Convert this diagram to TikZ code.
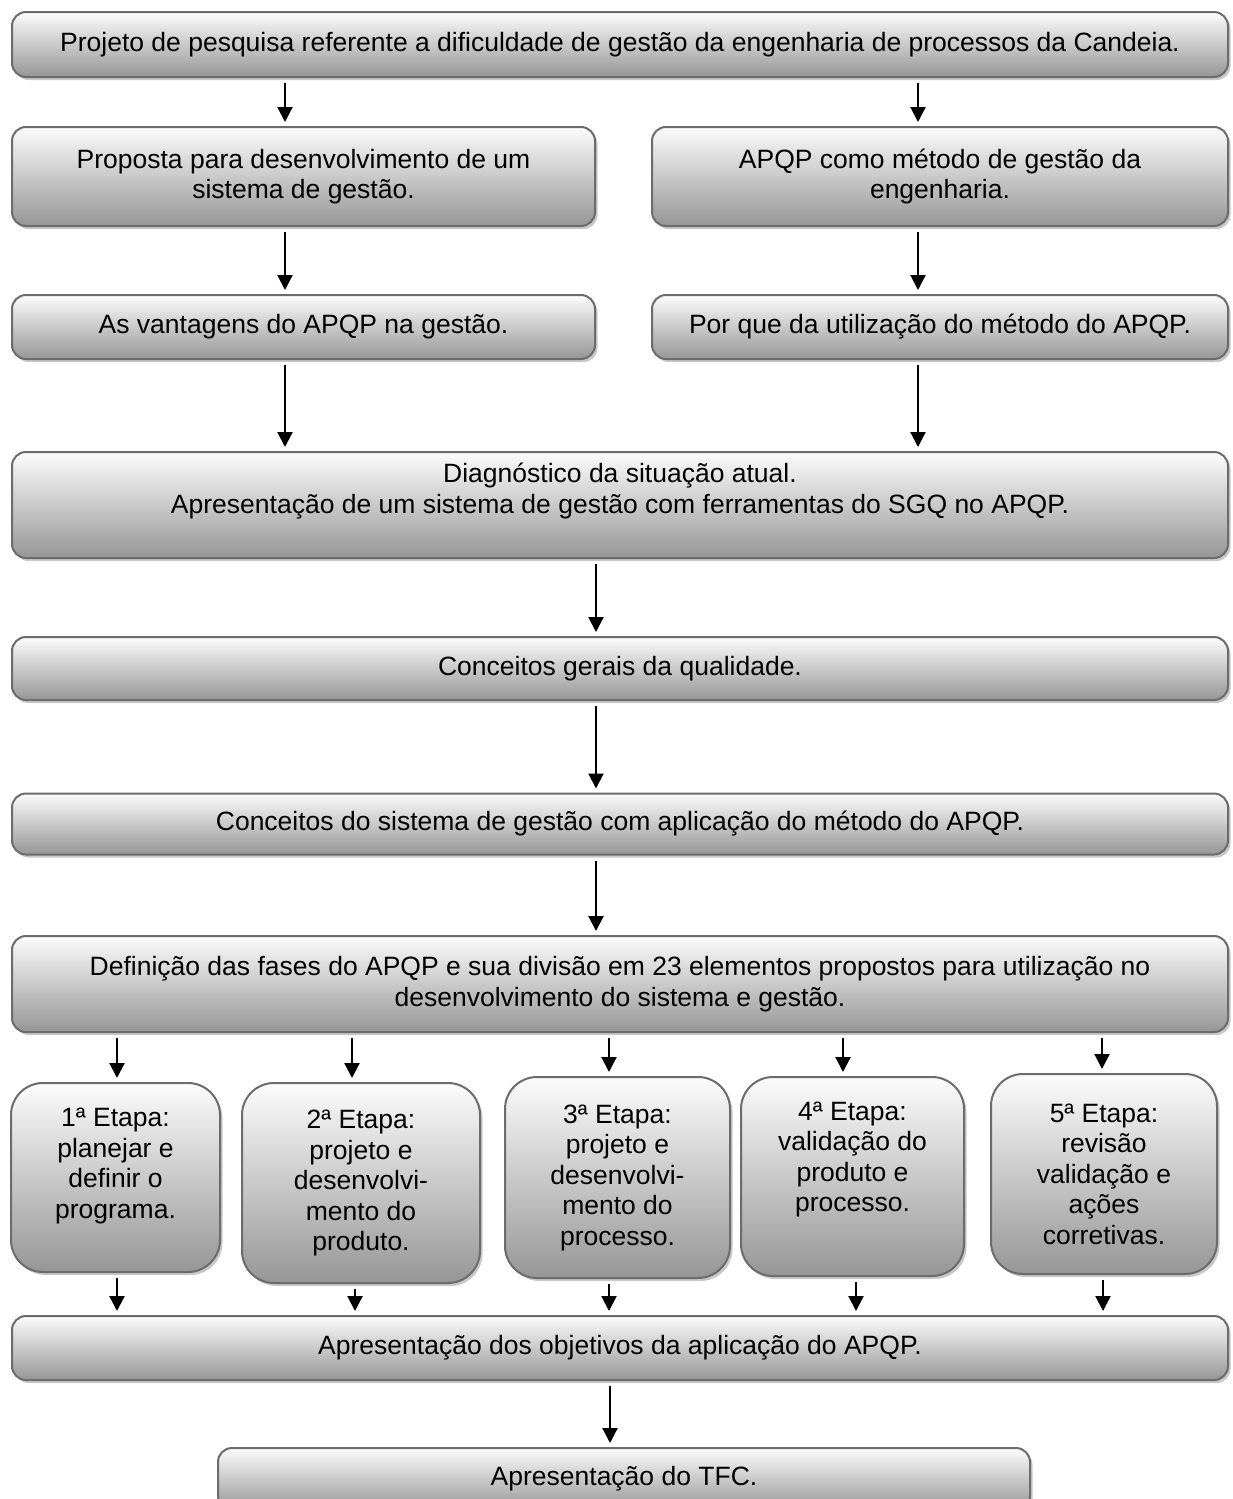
\documentclass[tikz,border=0pt]{standalone}
\usepackage{fontspec}
\setmainfont{Liberation Sans}
\usetikzlibrary{arrows.meta,positioning,shadows}

\definecolor{boxline}{RGB}{108,108,108}
\definecolor{boxtop}{RGB}{252,252,252}
\definecolor{boxbottom}{RGB}{150,150,150}
\definecolor{boxshadow}{RGB}{200,200,200}

\tikzset{
    box/.style={draw=boxline, line width=2pt, rounded corners=14pt,
        top color=boxtop, bottom color=boxbottom, align=center, inner sep=0pt,
        drop shadow={shadow xshift=2.5pt, shadow yshift=-3pt, fill=boxshadow, opacity=1}},
    etapa/.style={box, rounded corners=32pt},
    arr/.style={-{Triangle[width=15pt,length=15pt]}, line width=2.2pt,
        shorten <=5pt, shorten >=4pt}
}

\begin{document}
\begin{tikzpicture}[x=1pt, y=-1pt, font=\fontsize{26.5}{30.5}\selectfont]
    \useasboundingbox (0,0) rectangle (1232,1499);

    % Top
    \node[box, minimum width=1216pt, minimum height=65pt] (proj) at (620,44.5)
        {Projeto de pesquisa referente a dificuldade de gestão da engenharia de processos da Candeia.};

    % Two columns
    \node[box, minimum width=583pt, minimum height=99pt] (propL) at (303.5,176.5)
        {Proposta para desenvolvimento de um\\sistema de gestão.};
    \node[box, minimum width=576pt, minimum height=99pt] (propR) at (940,176.5)
        {APQP como método de gestão da\\engenharia.};
    \node[box, minimum width=583pt, minimum height=64pt] (vantL) at (303.5,327)
        {As vantagens do APQP na gestão.};
    \node[box, minimum width=576pt, minimum height=64pt] (porqR) at (940,327)
        {Por que da utilização do método do APQP.};

    % Main column
    \node[box, minimum width=1216pt, minimum height=106pt, text depth=34pt] (diag) at (620,505)
        {Diagnóstico da situação atual.\\Apresentação de um sistema de gestão com ferramentas do SGQ no APQP.};
    \node[box, minimum width=1216pt, minimum height=63pt] (conc) at (620,668.5)
        {Conceitos gerais da qualidade.};
    \node[box, minimum width=1216pt, minimum height=61pt] (sist) at (620,824)
        {Conceitos do sistema de gestão com aplicação do método do APQP.};
    \node[box, minimum width=1216pt, minimum height=96pt] (fases) at (620,984)
        {Definição das fases do APQP e sua divisão em 23 elementos propostos para utilização no\\desenvolvimento do sistema e gestão.};

    % Etapas
    \node[etapa, minimum width=209pt, minimum height=189pt, text depth=29pt] (e1) at (115.5,1177.5)
        {1ª Etapa:\\planejar e\\definir o\\programa.};
    \node[etapa, minimum width=238pt, minimum height=200pt] (e2) at (361,1183)
        {2ª Etapa:\\projeto e\\desenvolvi-\\mento do\\produto.};
    \node[etapa, minimum width=225pt, minimum height=201pt] (e3) at (617.5,1177.5)
        {3ª Etapa:\\projeto e\\desenvolvi-\\mento do\\processo.};
    \node[etapa, minimum width=223pt, minimum height=199pt, text depth=40pt] (e4) at (852.5,1176.5)
        {4ª Etapa:\\validação do\\produto e\\processo.};
    \node[etapa, minimum width=226pt, minimum height=200pt] (e5) at (1104,1174)
        {5ª Etapa:\\revisão\\validação e\\ações\\corretivas.};

    \node[box, minimum width=1216pt, minimum height=64pt] (obj) at (620,1348)
        {Apresentação dos objetivos da aplicação do APQP.};
    \node[box, minimum width=812pt, minimum height=62pt] (tfc) at (624,1479)
        {Apresentação do TFC.};

    % Arrows
    \coordinate (colL) at (285,0);
    \coordinate (colR) at (918,0);
    \coordinate (colM) at (596,0);
    \draw[arr] (proj.south -| colL) -- (propL.north -| colL);
    \draw[arr] (proj.south -| colR) -- (propR.north -| colR);
    \draw[arr] (propL.south -| colL) -- (vantL.north -| colL);
    \draw[arr] (propR.south -| colR) -- (porqR.north -| colR);
    \draw[arr] (vantL.south -| colL) -- (diag.north -| colL);
    \draw[arr] (porqR.south -| colR) -- (diag.north -| colR);
    \draw[arr] (diag.south -| colM) -- (conc.north -| colM);
    \draw[arr] (conc.south -| colM) -- (sist.north -| colM);
    \draw[arr] (sist.south -| colM) -- (fases.north -| colM);
    \foreach \n/\xa/\xb in {e1/117/117, e2/352/355, e3/609/609, e4/843/856, e5/1102/1103} {
        \coordinate (ta) at (\xa,0);
        \coordinate (tb) at (\xb,0);
        \draw[arr] (fases.south -| ta) -- (\n.north -| ta);
        \draw[arr] (\n.south -| tb) -- (obj.north -| tb);
    }
    \coordinate (colT) at (610,0);
    \draw[arr] (obj.south -| colT) -- (tfc.north -| colT);
\end{tikzpicture}
\end{document}
